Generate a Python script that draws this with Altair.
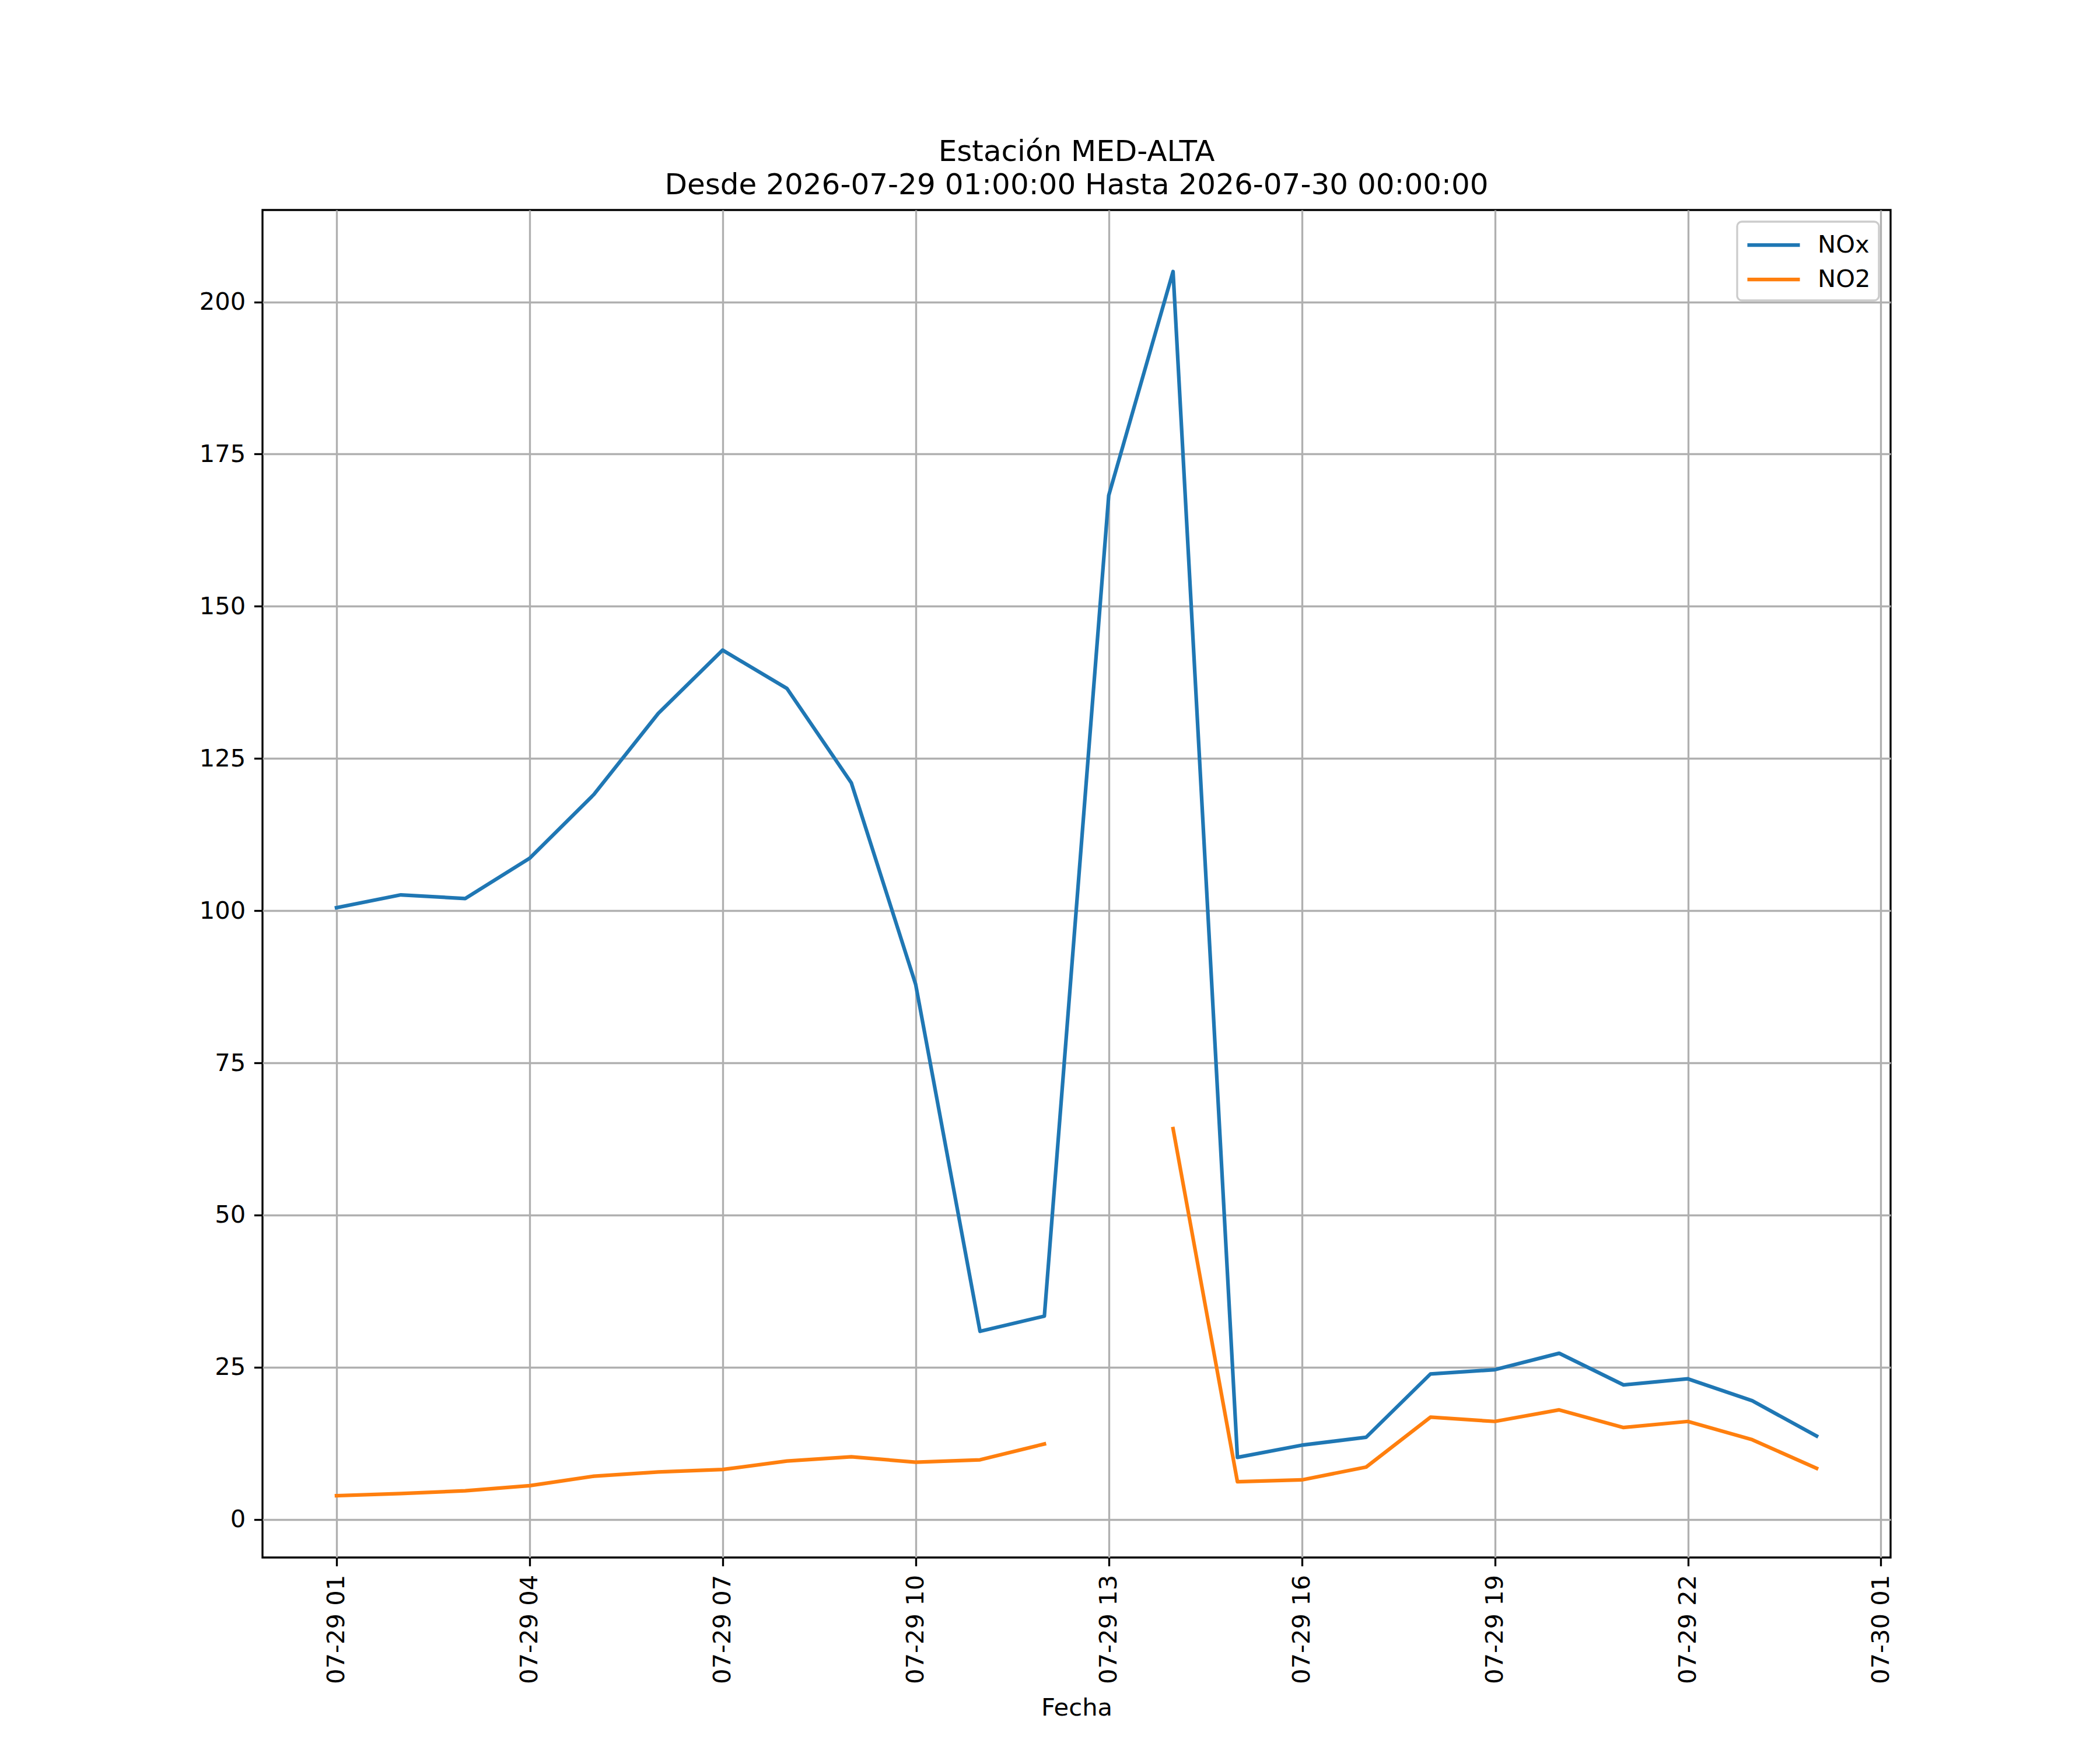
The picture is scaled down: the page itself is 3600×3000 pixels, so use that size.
import altair as alt
import pandas as pd

# ---- data ----
times = [
    "2026-07-29T01:00:00", "2026-07-29T02:00:00", "2026-07-29T03:00:00",
    "2026-07-29T04:00:00", "2026-07-29T05:00:00", "2026-07-29T06:00:00",
    "2026-07-29T07:00:00", "2026-07-29T08:00:00", "2026-07-29T09:00:00",
    "2026-07-29T10:00:00", "2026-07-29T11:00:00", "2026-07-29T12:00:00",
    "2026-07-29T13:00:00", "2026-07-29T14:00:00", "2026-07-29T15:00:00",
    "2026-07-29T16:00:00", "2026-07-29T17:00:00", "2026-07-29T18:00:00",
    "2026-07-29T19:00:00", "2026-07-29T20:00:00", "2026-07-29T21:00:00",
    "2026-07-29T22:00:00", "2026-07-29T23:00:00", "2026-07-30T00:00:00",
]
nox = [100.5, 102.6, 102.0, 108.6, 119.1, 132.4, 142.8, 136.5, 121.0, 87.9,
       30.9, 33.4, 168.2, 205.0, 10.2, 12.2, 13.5, 23.9, 24.6, 27.3, 22.1,
       23.1, 19.5, 13.7]
no2 = [3.9, 4.25, 4.7, 5.55, 7.1, 7.8, 8.2, 9.6, 10.3, 9.4, 9.8, 12.4, None,
       64.2, 6.2, 6.5, 8.6, 16.8, 16.1, 18.0, 15.1, 16.1, 13.1, 8.4]
series_names = ["NOx", "NO2"]
series_colors = ["#1f77b4", "#ff7f0e"]

# x tick positions (month, day, hour)
x_ticks = [(7, 29, 1), (7, 29, 4), (7, 29, 7), (7, 29, 10), (7, 29, 13),
           (7, 29, 16), (7, 29, 19), (7, 29, 22), (7, 30, 1)]
y_ticks = [0, 25, 50, 75, 100, 125, 150, 175, 200]

title_lines = ["Estación MED-ALTA",
               "Desde 2026-07-29 01:00:00 Hasta 2026-07-30 00:00:00"]

rows = []
for t, a, b in zip(times, nox, no2):
    rows.append({"Fecha": t, "serie": "NOx", "valor": a})
    rows.append({"Fecha": t, "serie": "NO2", "valor": b})
df = pd.DataFrame(rows)

FONT = "DejaVu Sans"
FS = 41.67
LW = 3.33

x_domain = [alt.DateTime(year=2026, month=7, date=28, hours=23, minutes=51),
            alt.DateTime(year=2026, month=7, date=30, hours=1, minutes=9)]
x_values = [alt.DateTime(year=2026, month=m, date=d, hours=h) for m, d, h in x_ticks]

chart = alt.Chart(df).mark_line(
    strokeWidth=6.25, strokeCap="square", strokeJoin="round",
    invalid="break-paths-show-domains"
).encode(
    x=alt.X("Fecha:T",
            scale=alt.Scale(domain=x_domain, nice=False),
            axis=alt.Axis(values=x_values, format="%m-%d %H", labelAngle=270,
                          labelLimit=1000, title="Fecha", grid=True)),
    y=alt.Y("valor:Q",
            scale=alt.Scale(domain=[-6.25, 215.1], nice=False, zero=False),
            axis=alt.Axis(values=y_ticks, title=None, grid=True)),
    color=alt.Color("serie:N",
                    scale=alt.Scale(domain=series_names, range=series_colors),
                    legend=alt.Legend(title=None, orient="none",
                                      legendX=2528, legendY=20,
                                      symbolType="M-1,0L3,0", symbolSize=2025,
                                      symbolStrokeWidth=6.25,
                                      labelFontSize=FS, labelFont=FONT,
                                      labelColor="black", labelOffset=72,
                                      rowPadding=11,
                                      fillColor="rgba(255,255,255,0.8)",
                                      strokeColor="#cccccc",
                                      padding=14, cornerRadius=8)),
).properties(
    width=2791, height=2310,
    title=alt.TitleParams(text=title_lines, fontSize=50, font=FONT,
                          fontWeight="normal", color="black", anchor="middle",
                          lineHeight=57, baseline="alphabetic", offset=-23),
    autosize=alt.AutoSizeParams(type="none"),
    padding={"left": 442, "top": 352, "right": 340, "bottom": 310},
    background="white",
).configure_view(
    stroke="black", strokeWidth=LW
).configure_legend(
    strokeWidth=LW
).configure_axis(
    labelFont=FONT, labelFontSize=FS, labelColor="black",
    titleFont=FONT, titleFontSize=FS, titleColor="black", titleFontWeight="normal",
    tickColor="black", tickWidth=LW, tickSize=14.6, labelPadding=14.6,
    domain=False, gridColor="#b0b0b0", gridWidth=LW, gridOpacity=1,
    titlePadding=37,
)

chart.save("out.html", embed_options={"renderer": "svg", "actions": False})
